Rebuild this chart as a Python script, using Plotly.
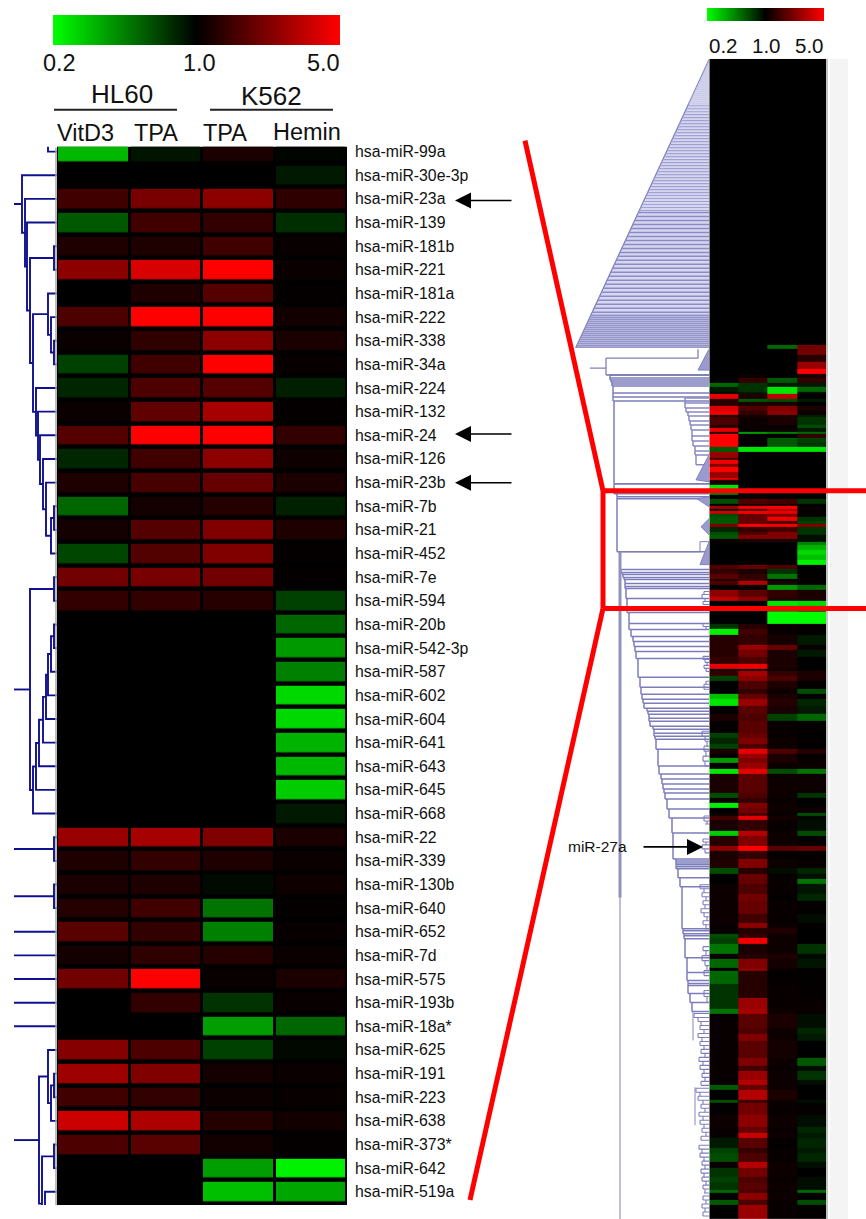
import plotly.graph_objects as go

W, H = 866, 1219
FONT = "Liberation Sans"
GREEN_RED = [[0, "#00ff00"], [0.5, "#000000"], [1, "#ff0000"]]

# ---------- left panel: log5(fold change), one row per miRNA ----------
mirnas = ["hsa-miR-99a","hsa-miR-30e-3p","hsa-miR-23a","hsa-miR-139","hsa-miR-181b","hsa-miR-221","hsa-miR-181a",
          "hsa-miR-222","hsa-miR-338","hsa-miR-34a","hsa-miR-224","hsa-miR-132","hsa-miR-24","hsa-miR-126","hsa-miR-23b",
          "hsa-miR-7b","hsa-miR-21","hsa-miR-452","hsa-miR-7e","hsa-miR-594","hsa-miR-20b","hsa-miR-542-3p","hsa-miR-587",
          "hsa-miR-602","hsa-miR-604","hsa-miR-641","hsa-miR-643","hsa-miR-645","hsa-miR-668","hsa-miR-22","hsa-miR-339",
          "hsa-miR-130b","hsa-miR-640","hsa-miR-652","hsa-miR-7d","hsa-miR-575","hsa-miR-193b","hsa-miR-18a*","hsa-miR-625",
          "hsa-miR-191","hsa-miR-223","hsa-miR-638","hsa-miR-373*","hsa-miR-642","hsa-miR-519a"]
hl60_vitd3 = [-.72,0,.25,-.35,.12,.55,0,.3,.04,-.25,-.15,.04,.33,-.15,.12,-.4,.08,-.27,.45,.2,0,0,0,0,0,0,0,0,0,.6,.12,.1,.14,.35,.08,.45,0,0,.52,.62,.25,.8,.3,0,0]
hl60_tpa = [-.08,0,.47,.25,.12,.85,.12,1,.18,.25,.3,.38,1,.25,.28,.08,.33,.32,.47,.2,0,0,0,0,0,0,0,0,0,.65,.2,.12,.25,.2,.18,1,.2,0,.3,.5,.2,.68,.35,0,0]
k562_tpa = [.1,0,.55,.2,.25,1,.33,1,.55,1,.33,.65,1,.55,.4,.14,.5,.5,.45,.15,0,0,0,0,0,0,0,0,0,.5,.12,-.04,-.45,-.5,.14,.03,-.2,-.62,-.25,.08,.05,.14,.07,-.62,-.75]
k562_hemin = [-.02,-.1,.18,-.18,.03,.04,.02,.07,.1,.03,-.12,.02,.2,.06,.1,-.13,.12,.02,.02,-.25,-.4,-.6,-.5,-.85,-.85,-.7,-.72,-.8,-.1,.1,.04,.06,.02,.03,.04,.1,.03,-.4,-.03,.04,.03,.07,.02,-.95,-.65]
left_rows = list(range(1, len(mirnas) + 1))

# left dendrogram: node = (merge distance, child, child); a child is a node or a row number
tree_top = (35, 2, (32, 3, (30, 4, (27, (3, 5, 6), (24, (9, 7, (6, 8, (3, 9, 10))),
       (21, 11, (19, 12, (17, 13, (14, 14, (11, 15, (6, (3, 16, 17), 18)))))))))))
tree_mid = (27, (3, 19, 20), (24, (21, (18, (14, (11, (9, (6, (3, 21, 22), 23), 24), 25), 26), 27), 28), 29))
tree_bot = (18, (9, 39, (6, (3, 40, 41), 42)), (15, (3, 43, 44), (12, 45, 50)))
tree_pair_a = (3, 30, 31)
tree_pair_b = (3, 32, 33)
tree_first = (9, 0, 1)
rooted_trees = [tree_top, tree_mid, tree_pair_a, tree_pair_b, 34, 35, 36, 37, 38, tree_bot]
ROOT_DIST = 43

dx, dy = [], []
def walk(node):
    if not isinstance(node, tuple):
        return 0, node
    d, a, b = node
    da, ya = walk(a)
    db, yb = walk(b)
    dx.extend([da, d, d, db, None])
    dy.extend([ya, ya, yb, yb, None])
    return d, (ya + yb) / 2
for t in rooted_trees:
    d, y = walk(t)
    dx.extend([d, ROOT_DIST, None])
    dy.extend([y, y, None])
walk(tree_first)

# ---------- right panel: bands read down the picture ----------
band_edges = [56,
    343,347,353,360,367,372,376,381,385,390,
    392,397,400,404,409,413,415,423,426,430,
    432,436,441,445,450,456,458,462,465,470,
    476,478,483,487,490,493,497,502,504,507,
    509,512,515,519,522,525,530,533,537,540,
    543,548,553,558,563,567,572,577,579,583,
    588,595,599,604,610,622,627,633,643,648,
    655,662,667,670,675,680,688,693,698,705,
    713,720,732,737,743,748,753,757,762,768,
    773,792,797,802,807,812,815,819,830,835,
    845,850,858,867,873,878,883,893,900,913,
    922,927,933,937,943,953,958,967,970,983,
    997,1008,1013,1027,1033,1040,1057,1065,1070,1080,
    1085,1090,1100,1103,1115,1127,1133,1138,1148,1153,
    1162,1168,1177,1183,1190,1193,1200,1205,1219]
band_c1 = [0,0,0,0,0,0,0,0,-.4,-.1,
    -.05,.9,.15,.15,.85,.95,.1,.3,.15,.9,
    .15,1,1,1,-.35,.6,.25,.95,.5,1,
    .6,.9,.1,-.9,-.9,-.5,0,-.3,0,.6,
    .1,.8,-.3,-.35,-.35,.5,-.15,-.3,-.35,.05,
    0,0,0,0,0,.3,.2,.35,.15,.3,
    .02,.55,.75,0,0,0,-.2,-.95,.15,.15,
    .15,.2,.9,.05,.2,-.25,0,0,-.75,-.9,
    0,.1,.02,-.25,-.15,-.25,.1,.02,-.6,.02,
    -.9,.1,-.3,.05,-.95,0,.05,.25,.1,-.8,
    .15,.55,.1,.12,-.3,0,0,.05,.05,.05,
    .05,.03,.03,-.3,-.25,-.45,.05,-.4,0,-.4,
    -.2,-.2,-.45,.03,.03,.03,.03,.03,.03,.03,
    .03,-.35,0,-.3,.02,.05,.03,.03,-.1,-.25,
    -.3,.03,-.2,-.25,-.2,-.4,0,-.35,0]
band_c2 = [0,0,0,0,0,0,.05,.2,-.2,-.2,
    -.1,.1,-.35,.1,.3,.2,.1,.05,.03,.03,
    -.6,.02,.02,0,-.9,0,0,0,0,0,
    0,0,0,0,0,0,.05,.3,.1,.95,
    .3,.95,.4,.4,.4,1,.2,.3,.5,.1,
    0,0,0,0,0,.4,.1,.2,.2,.7,
    .05,.35,.55,0,0,0,.15,.25,.2,.6,
    .45,.3,.95,.05,.65,.55,.3,.2,.4,.6,
    .35,.3,.35,.4,.5,.3,.9,.6,.5,.6,
    .9,.35,.3,.2,.5,.45,.3,.9,.2,.7,
    .5,1,.2,.5,.15,.4,.4,.3,.45,.4,
    .25,.55,.15,.2,.95,.1,.15,.5,.55,.15,
    .15,.6,.65,.35,.3,.5,.35,.5,.25,.6,
    .7,.4,.7,.25,.45,.55,.4,.8,.35,.2,
    .3,.7,.45,.3,.35,.3,.55,.3,.6]
band_c3 = [0,-.4,0,0,0,0,0,-.35,-.1,-.9,
    -.9,.75,-.3,.1,.5,.55,.1,.1,.03,.05,
    -.5,.02,-.35,-.35,-.9,0,0,0,0,0,
    0,0,0,0,0,0,0,.25,.1,1,
    .7,.9,.5,.95,.3,.95,.25,.5,.5,.1,
    0,0,0,0,0,.3,-.2,-.45,.02,.1,
    -.6,.2,.15,-.9,-.6,-1,.03,.03,.08,.4,
    .1,.1,.1,.05,.2,.3,.12,.05,.1,.15,
    .1,-.25,.03,.03,.05,.05,.3,.1,.1,.05,
    -.3,.05,.05,.03,.05,.05,.03,.08,.03,.05,
    .05,.35,.02,.05,-.05,.03,.03,.03,.02,.03,
    .03,.05,.12,.05,.05,.05,.12,.08,.03,.02,
    .03,.03,.05,.1,.05,.05,.08,.05,.03,.05,
    .05,.05,.1,.05,.03,.05,.03,.05,.02,.03,
    .03,.05,.05,.03,.05,.03,.05,.03,.03]
band_c4 = [0,.45,.45,.15,.6,1,.1,.2,-.1,-.4,
    -.05,0,-.1,0,.1,.05,-.1,-.2,-.3,-.1,
    -.4,.2,-.25,-.2,-.9,0,0,0,0,0,
    0,0,0,0,0,0,0,-.2,0,.03,
    .03,.03,0,-.2,-.25,.5,-.2,-.2,-.05,-.05,
    -.5,-.7,-.85,-.75,-.95,0,0,.02,.02,.02,
    -.4,.1,.12,-.85,-.4,-1,.02,.02,-.1,.03,
    -.1,0,0,.02,.1,.1,.02,-.3,0,-.15,
    -.1,-.4,.02,0,.02,0,.15,.02,.03,.05,
    -.45,.05,-.2,0,.02,.05,-.3,-.03,-.05,-.3,
    .02,.4,.02,.03,-.15,-.05,-.45,-.08,-.15,.02,
    -.05,.02,0,0,0,-.2,-.03,-.08,.02,.01,
    .02,.03,.03,-.05,-.15,-.1,0,-.35,-.05,-.2,
    -.05,0,0,-.05,.02,-.05,-.15,-.1,-.15,-.1,
    -.15,-.05,0,-.05,-.05,-.4,0,-.3,.02]
assert len(band_edges) == len(band_c1) + 1 == len(band_c2) + 1 == len(band_c3) + 1 == len(band_c4) + 1

# right dendrogram, read in picture positions: (leaf position, merge position)
fan_tiers = [(57, 103, 2.0, "#c9c9e8", 1), (103, 210, 3.0, "#a2a2d6", 1.2), (210, 313, 4.0, "#8b8bc8", 1.5), (313, 345, 2.0, "#9595cc", 1.5)]
fan_apex = (57, 709)
fan_base = (345, 576)
spine_y = [[373,376,378,380,382,384,391,395,399,482],[482,492,495,497,550],[568,571,573,576,578,582,585,587,597,611,622,628,635,640,645,650,657,676,686,693,698,702,707,710,713,717,720,725,728,732,735,738,748,765,773,778,783,788,792,798,808,817,832,858,860,862,864,866,868,877,886,928,930,933,935,938,957,972,980,983,985,993,1002,1011],
           [396,401,406,410,414,419,423,428,434,439,444,449,453,463]]
spine_x = [[610,610,611,612,612,613,613,613,614,614],[614,617,617,617,618],[621,622,623,624,625,625,625,626,627,629,629,631,633,634,635,636,638,640,641,642,643,644,647,648,649,649,650,653,654,654,655,656,658,659,661,662,663,664,665,667,669,672,673,676,676,676,676,676,678,680,682,683,683,684,684,685,687,687,688,688,688,690,692,693],
           [685,685,686,688,689,690,691,692,692,693,695,695,696,696]]
spine_colour = ["#7c7cbc", "#7c7cbc", "#7c7cbc", "#8888c4"]
twig_y = [[590,593,597,600,603],[622,625,628],[655,658,661,664,667,670],[680,683,688],[730,735,740,745,750,755,760,765],[815,820,823],[838,841,844,848,852],[884,888,892,896,900,904,908,912,916,920,924,928],[946,950,955,960,965,970,975],[990,996,1002],[1013,1017,1021,1025,1029,1033,1037,1041,1045,1049,1053,1057,1061,1065,1069,1073,1077,1081,1085],[1088,1092,1096,1100,1104,1108,1112,1116,1120,1124,1128,1132,1136,1140],[1145,1149,1153,1157,1161,1165,1169,1173,1177,1181,1185,1189,1193],[1196,1200,1204,1208,1212,1216]]
twig_x = [[704,702,705,703,706],[703,706,704],[703,705,707,704,706,708],[706,704,707],[702,705,707,704,706,703,705,707],[704,707,705],[703,706,702,705,707],[700,704,702,706,703,705,701,704,707,703,706,704],[703,706,702,705,707,704,706],[704,707,705],[694,698,701,700,704,698,702,700,704,701,705,699,703,700,704,702,705,701,704],[696,700,698,703,701,705,699,703,700,704,702,706,701,704],[699,702,700,704,702,705,701,704,702,706,703,705,704],[703,706,702,705,703,706]]
fills_x = [[709,696,709],[709,697,709],[709,701,709],[709,700,709],[709,698,709]]
fills_y = [[453,478,480],[495,497,505],[517,525,533],[540,563,563],[347,368,368]]
links_x = [[606,698,698],[606,606],[590,606],[606,709],[700,700,709],[618,700],[620,620],[620,620],[693,693],[695,695]]
links_y = [[356,356,347],[356,373],[366,366],[373,373],[550,540,540],[550,550],[550,897],[897,1219],[1011,1040],[1087,1125]]
links_w = [1.3,1.3,1.3,1.5,1,1.3,3,1.5,1,1]
links_c = ["#8080b8","#8080b8","#8080b8","#7878b0","#8080b8","#8080b0","#9292bc","#a8a8c8","#8484c2","#8484c2"]

def px(v): return v / W
def py(v): return 1 - v / H

fig = go.Figure()

fig.add_trace(go.Heatmap(z=[list(r) for r in zip(hl60_vitd3, hl60_tpa, k562_tpa, k562_hemin)],
    x=[0, 1, 2, 3], y=left_rows, zmin=-1, zmax=1, colorscale=GREEN_RED, xgap=3, ygap=4.5, hoverinfo="skip",
    colorbar=dict(orientation="h", x=px(53), xanchor="left", y=py(12), yanchor="top", len=287, lenmode="pixels",
                  thickness=30, thicknessmode="pixels", outlinewidth=0, showticklabels=False, ticks="", xpad=0, ypad=0),
    xaxis="x", yaxis="y"))
fig.add_trace(go.Scatter(x=dx, y=dy, mode="lines", line=dict(color="#10108f", width=1.9), hoverinfo="skip",
    showlegend=False, xaxis="x2", yaxis="y"))

fig.add_trace(go.Heatmap(z=[list(r) for r in zip(band_c1, band_c2, band_c3, band_c4)],
    x=[0, 1, 2, 3], y=band_edges, zmin=-1, zmax=1, colorscale=GREEN_RED, hoverinfo="skip",
    colorbar=dict(orientation="h", x=px(707), xanchor="left", y=py(5), yanchor="top", len=117, lenmode="pixels",
                  thickness=13, thicknessmode="pixels", outlinewidth=0, showticklabels=False, ticks="", xpad=0, ypad=0),
    xaxis="x3", yaxis="y3"))

def rline(xs, ys, colour, width):
    fig.add_trace(go.Scatter(x=xs, y=ys, mode="lines", line=dict(color=colour, width=width), hoverinfo="skip",
                             showlegend=False, xaxis="x4", yaxis="y3"))

# fan at the top of the right dendrogram
slope = (fan_base[1] - fan_apex[1]) / (fan_base[0] - fan_apex[0])
fig.add_trace(go.Scatter(x=[fan_apex[1], fan_base[1], 709], y=[fan_apex[0], fan_base[0], fan_base[0]], mode="lines",
    fill="toself", fillcolor="#d6d6ee", line=dict(color="#7a7abc", width=1.2), hoverinfo="skip", showlegend=False,
    xaxis="x4", yaxis="y3"))
for y0, y1, step, colour, width in fan_tiers:
    xs, ys = [], []
    y = y0
    while y < y1:
        xs += [fan_apex[1] + slope * (y - fan_apex[0]), 709, None]
        ys += [y, y, None]
        y += step
    rline(xs, ys, colour, width)

def ladder(ys, xs, colour, width):
    hx, hy = [], []
    for i, (y, x) in enumerate(zip(ys, xs)):
        start = min(x, xs[i - 1]) if i else x
        hx += [start, 709, None]
        hy += [y, y, None]
        if i + 1 < len(ys):
            hx += [x, x, None]
            hy += [y, ys[i + 1], None]
    rline(hx, hy, colour, width)

for ys, xs, c in zip(spine_y, spine_x, spine_colour):
    ladder(ys, xs, c, 1.5)
for ys, xs in zip(twig_y, twig_x):
    ladder(ys, xs, "#7c7cc0", 1.1)
for xs, ys in zip(fills_x, fills_y):
    fig.add_trace(go.Scatter(x=xs, y=ys, mode="lines", fill="toself", fillcolor="#9a9ad0",
        line=dict(color="#8080c0", width=1), hoverinfo="skip", showlegend=False, xaxis="x4", yaxis="y3"))
for xs, ys, w, c in zip(links_x, links_y, links_w, links_c):
    rline(xs, ys, c, w)

hidden = dict(visible=False, fixedrange=True)
fig.update_layout(
    width=W, height=H, margin=dict(l=0, r=0, t=0, b=0), paper_bgcolor="white", plot_bgcolor="white",
    showlegend=False, font=dict(family=FONT, color="black"),
    xaxis=dict(domain=[px(57), px(347)], range=[-.5, 3.5], anchor="y", **hidden),
    yaxis=dict(domain=[py(1205), py(144)], range=[45.56, .79], side="right", anchor="x", showgrid=False, zeroline=False,
               showline=False, tickvals=left_rows, ticktext=mirnas, ticks="", ticklabelstandoff=7,
               tickfont=dict(size=15.8, color="#111111", family=FONT)),
    xaxis2=dict(domain=[0, px(57)], range=[57, 0], anchor="y", **hidden),
    xaxis3=dict(domain=[px(709.3), px(826)], range=[-.5, 3.5], anchor="y3", **hidden),
    yaxis3=dict(domain=[0, py(56)], range=[1219, 56], anchor="x3", **hidden),
    xaxis4=dict(domain=[px(570), px(709.3)], range=[570, 709.3], anchor="y3", **hidden),
)

shapes = [
    dict(type="rect", xref="x domain", yref="y domain", x0=0, x1=1, y0=0, y1=1, fillcolor="black", line_width=0, layer="below"),
    dict(type="line", xref="paper", yref="paper", x0=px(56), x1=px(56), y0=py(145), y1=py(1205), line=dict(color="#a8a8a8", width=1.5)),
    dict(type="line", xref="paper", yref="paper", x0=px(54), x1=px(177), y0=py(107), y1=py(107), line=dict(color="#222", width=2)),
    dict(type="line", xref="paper", yref="paper", x0=px(210), x1=px(333), y0=py(107), y1=py(107), line=dict(color="#222", width=2)),
    dict(type="rect", xref="paper", yref="paper", x0=px(830), x1=px(848), y0=py(56), y1=0, fillcolor="#f4f4f4", line_width=0, layer="below"),
    dict(type="line", xref="paper", yref="paper", x0=px(827), x1=px(827), y0=py(56), y1=0, line=dict(color="#c4c4c4", width=2)),
]
for x0, y0, x1, y1 in [(525, 138, 603, 489), (603, 489, 866, 489), (603, 489, 603, 607), (603, 607, 866, 607), (603, 607, 470, 1200)]:
    shapes.append(dict(type="line", xref="paper", yref="paper", x0=px(x0), x1=px(x1), y0=py(y0), y1=py(y1),
                       line=dict(color="#ff0000", width=5)))
fig.update_layout(shapes=shapes)

notes = [("0.2", 60, 60, 23.5), ("1.0", 199, 60, 23.5), ("5.0", 323, 60, 23.5),
         ("HL60", 122, 91, 26), ("K562", 271, 93, 26),
         ("VitD3", 85, 130, 23.5), ("TPA", 156, 130, 23.5), ("TPA", 225, 130, 23.5), ("Hemin", 307, 129, 23.5),
         ("0.2", 723, 43, 20.5), ("1.0", 766, 43, 20.5), ("5.0", 809, 43, 20.5), ("miR-27a", 597, 846, 15.5)]
annots = [dict(text=t, x=px(x), y=py(y), xref="paper", yref="paper", xanchor="center", yanchor="middle",
               showarrow=False, font=dict(size=s, family=FONT, color="#111111")) for t, x, y, s in notes]
for tip_x, y, tail in [(455, 198, 58), (455, 432, 58), (455, 481, 58), (703, 846, -61)]:
    annots.append(dict(text="", x=px(tip_x), y=py(y), xref="paper", yref="paper", ax=tail, ay=0, showarrow=True,
                       arrowhead=2, arrowsize=2, arrowwidth=1.6, arrowcolor="black"))
fig.update_layout(annotations=annots)

fig.write_html("out.html", config=dict(displayModeBar=False),
               post_script="document.body.style.margin='0';document.body.style.overflow='hidden';")
